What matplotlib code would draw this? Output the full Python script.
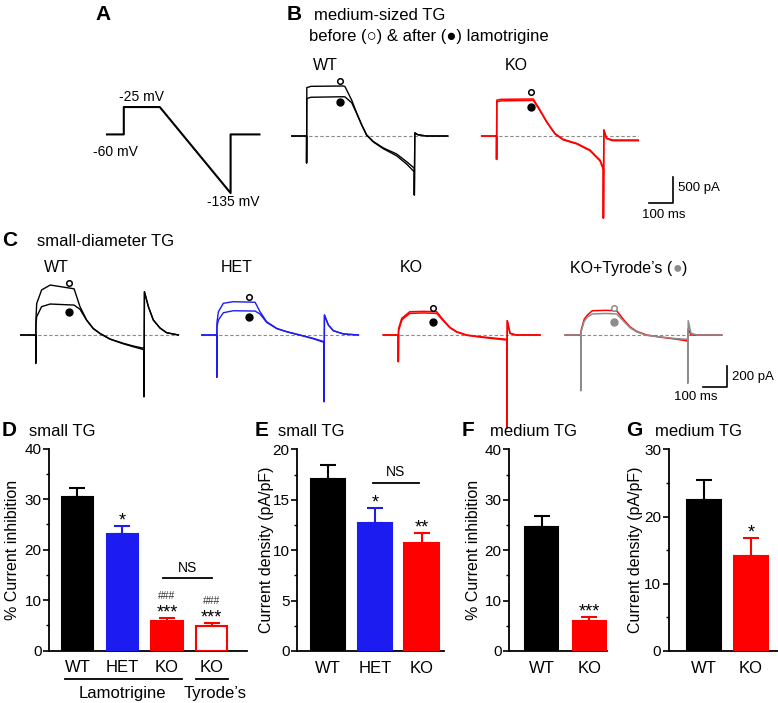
import matplotlib
matplotlib.use("Agg")
import matplotlib.pyplot as plt
from matplotlib.ticker import MultipleLocator, AutoMinorLocator

plt.rcParams['font.family'] = ['Liberation Sans', 'DejaVu Sans']

W, H = 778, 703
BLACK, BLUE, RED, GRAY = 'black', '#1c1cf0', '#ff0000', '#8c8c8c'

# A: voltage protocol (ms, mV)
A_T = [0, 70, 70, 220, 515, 515, 635]
A_V = [-60, -60, -25, -25, -135, -60, -60]

# B: medium-sized TG, before / after lamotrigine (ms, pA)
B_WT_T = [0, 62, 62, 63, 80, 215, 222, 250, 271, 292, 312, 340, 382, 437, 479, 511, 511, 513, 525, 560, 650]
B_WT_PRE = [0, 0, -520, 930, 955, 962, 950, 690, 440, 215, 25, -105, -230, -345, -495, -620, -1135, 60, 25, 0, 0]
B_WT_POST = [0, 0, -520, 720, 745, 755, 752, 640, 430, 205, 15, -115, -245, -380, -540, -690, -1135, 60, 25, 0, 0]
B_KO_T = [0, 62, 62, 63, 80, 215, 243, 271, 305, 340, 396, 451, 493, 507, 507, 509, 520, 545, 652]
B_KO_PRE = [0, 0, -450, 690, 705, 712, 500, 275, 51, -64, -141, -269, -462, -622, -1580, 115, -40, -77, -77]
B_KO_POST = [0, 0, -450, 660, 675, 685, 485, 265, 40, -75, -152, -282, -480, -645, -1580, 115, -50, -90, -90]
B_WT_MARK = (201, 1063, 660)   # time, open circle, filled circle
B_KO_MARK = (204, 846, 552)
B_SCALE = (100, 500)

# C: small-diameter TG (ms, pA)
C_WT_T = [0, 61, 61, 62, 65, 85, 120, 217, 241, 268, 295, 322, 363, 417, 458, 501, 501, 503, 519, 539, 566, 593, 641]
C_WT_PRE = [0, 0, -270, 150, 300, 429, 476, 440, 270, 143, 63, 16, -38, -79, -105, -127, -588, 412, 270, 143, 67, 22, 0]
C_WT_POST = [0, 0, -270, 100, 175, 270, 295, 285, 245, 140, 60, 14, -40, -84, -112, -140, -588, 412, 270, 143, 67, 22, 0]
C_HET_T = [0, 61, 61, 62, 68, 88, 128, 217, 237, 264, 305, 346, 400, 454, 497, 497, 499, 515, 535, 576, 637]
C_HET_PRE = [0, 0, -403, 120, 222, 302, 317, 312, 222, 127, 63, 32, 0, -32, -63, -635, 190, 95, 41, 10, 0]
C_HET_POST = [0, 0, -403, 80, 143, 212, 231, 228, 200, 120, 60, 30, -2, -36, -70, -635, 190, 95, 41, 10, 0]
C_KO_T = [0, 61, 61, 62, 75, 88, 108, 163, 217, 244, 271, 298, 339, 393, 461, 502, 502, 504, 515, 540, 637]
C_KO_PRE = [0, 0, -254, 60, 159, 184, 222, 225, 222, 143, 73, 32, 0, -16, -32, -41, -889, 136, 16, 0, 0]
C_KO_POST = [0, 0, -254, 40, 140, 170, 206, 210, 206, 135, 68, 28, -3, -20, -38, -48, -889, 136, 16, 0, 0]
C_TY_T = [0, 64, 64, 65, 78, 91, 111, 166, 210, 237, 264, 291, 332, 386, 454, 499, 499, 501, 512, 537, 637]
C_TY_RED = [0, 0, -60, 40, 150, 190, 231, 235, 231, 150, 78, 35, 0, -20, -40, -57, -150, 60, 0, 0, 0]
C_TY_GRAY = [0, 0, -532, 30, 130, 170, 200, 205, 200, 135, 70, 30, -3, -18, -35, -41, -460, 136, 16, 0, 0]
C_WT_MARK = (196, 498, 222)
C_HET_MARK = (193, 365, 169)
C_KO_MARK = (201, 254, 127)
C_TY_MARK = (199, 254, 127)
C_SCALE = (100, 200)

# D-G: bar charts
D_LABELS = ['WT', 'HET', 'KO', 'KO']
D_VALS = [30.5, 23.2, 5.8, 4.8]
D_ERRS = [1.7, 1.5, 0.7, 0.7]
D_STARS = ['', '*', '***', '***']
D_HASH = ['', '', '###', '###']
E_LABELS = ['WT', 'HET', 'KO']
E_VALS = [17.1, 12.7, 10.7]
E_ERRS = [1.3, 1.5, 1.0]
E_STARS = ['', '*', '**']
F_LABELS = ['WT', 'KO']
F_VALS = [24.6, 6.0]
F_ERRS = [2.1, 0.7]
F_STARS = ['', '***']
G_LABELS = ['WT', 'KO']
G_VALS = [22.5, 14.2]
G_ERRS = [2.9, 2.6]
G_STARS = ['', '*']

fig = plt.figure(figsize=(W / 100, H / 100), dpi=100)


def px_axes(left, top, right, bottom):
    return fig.add_axes([left / W, 1 - bottom / H, (right - left) / W, (bottom - top) / H])


def overlay(x0, y0, sx, sy):
    # transparent full-figure axes whose data origin sits at pixel (x0, y0)
    ax = fig.add_axes([0, 0, 1, 1])
    ax.set_xlim(-x0 / sx, (W - x0) / sx)
    ax.set_ylim(-(H - y0) / sy, y0 / sy)
    ax.set_axis_off()
    return ax


def label(x, y, s, **kw):
    kw.setdefault('va', 'center')
    return fig.text(x / W, 1 - y / H, s, **kw)


def draw_trace(ax, t, traces, colors, lw=1.0):
    ax.hlines(0, t[0], t[-1], colors='#8a8a8a', linestyles=(0, (3, 2)), linewidth=0.8, zorder=1)
    for y, c in zip(traces, colors):
        ax.plot(t, y, color=c, lw=lw, zorder=2)


def marks(ax, m, open_col, fill_col):
    t, y_open, y_fill = m
    ax.plot(t, y_open, 'o', mfc='white', mec=open_col, ms=4, mew=1.1, zorder=3)
    ax.plot(t, y_fill, 'o', color=fill_col, ms=5, zorder=3)


def bar_panel(box, xlim, ylim, step, labels, vals, errs, edges, faces, stars, width, ylabel, ylab_x):
    ax = px_axes(*box)
    x = list(range(len(vals)))
    ax.bar(x, vals, width, color=faces, edgecolor=edges, linewidth=1.5, zorder=3)
    for xi, v, e, c, s in zip(x, vals, errs, edges, stars):
        ax.errorbar(xi, v, yerr=[[0], [e]], fmt='none', ecolor=c, elinewidth=1.5,
                    capsize=5.5, capthick=1.5, zorder=2)
        if s:
            ax.annotate(s, (xi, v + e), xytext=(0, 0.5), textcoords='offset points',
                        ha='center', va='baseline', fontsize=13)
    ax.set_xlim(xlim)
    ax.set_ylim(ylim)
    ax.set_xticks(x, labels, fontsize=12)
    ax.yaxis.set_major_locator(MultipleLocator(step))
    ax.yaxis.set_minor_locator(AutoMinorLocator(2))
    ax.tick_params(axis='x', length=0, pad=7)
    ax.tick_params(axis='y', which='major', length=4, width=1.2, labelsize=11, pad=1.5)
    ax.tick_params(axis='y', which='minor', length=2.5, width=1.0)
    for sp in ['top', 'right']:
        ax.spines[sp].set_visible(False)
    for sp in ['left', 'bottom']:
        ax.spines[sp].set_linewidth(1.3)
    ax.set_ylabel(ylabel, fontsize=11.5, va='center')
    ax.yaxis.set_label_coords(ylab_x, 0.5)
    ax.patch.set_visible(False)
    return ax


# ---- A
axA = overlay(107, 87.5, 0.24, 0.782)
axA.plot(A_T, A_V, color=BLACK, lw=1.5)
axA.annotate('-25 mV', (145, -25), xytext=(0, 2.5), textcoords='offset points',
             ha='center', va='bottom', fontsize=10)
axA.annotate('-60 mV', (35, -60), xytext=(0, -13), textcoords='offset points',
             ha='center', va='center', fontsize=10)
axA.annotate('-135 mV', (515, -135), xytext=(1.7, -6.5), textcoords='offset points',
             ha='center', va='center', fontsize=10)

# ---- B
axB1 = overlay(291.7, 136, 0.24, 0.052)
draw_trace(axB1, B_WT_T, [B_WT_PRE, B_WT_POST], [BLACK, BLACK])
marks(axB1, B_WT_MARK, BLACK, BLACK)
axB2 = overlay(481.7, 136, 0.24, 0.052)
draw_trace(axB2, B_KO_T, [B_KO_PRE, B_KO_POST], [RED, RED], lw=1.1)
marks(axB2, B_KO_MARK, BLACK, BLACK)
bx, by = 797, -1283
axB2.plot([bx - B_SCALE[0], bx, bx], [by, by, by + B_SCALE[1]], color=BLACK, lw=1.2)

# ---- C
axC1 = overlay(20.7, 335, 0.246, 0.105)
draw_trace(axC1, C_WT_T, [C_WT_PRE, C_WT_POST], [BLACK, BLACK])
marks(axC1, C_WT_MARK, BLACK, BLACK)
axC2 = overlay(201.7, 335, 0.246, 0.105)
draw_trace(axC2, C_HET_T, [C_HET_PRE, C_HET_POST], [BLUE, BLUE])
marks(axC2, C_HET_MARK, BLACK, BLACK)
axC3 = overlay(383.3, 335, 0.246, 0.105)
draw_trace(axC3, C_KO_T, [C_KO_PRE, C_KO_POST], [RED, RED], lw=1.1)
marks(axC3, C_KO_MARK, BLACK, BLACK)
axC4 = overlay(565, 335, 0.246, 0.105)
draw_trace(axC4, C_TY_T, [C_TY_RED, C_TY_GRAY], [RED, GRAY], lw=1.1)
marks(axC4, C_TY_MARK, GRAY, GRAY)
cx, cy = 660, -492
axC4.plot([cx - C_SCALE[0], cx, cx], [cy, cy, cy + C_SCALE[1]], color=BLACK, lw=1.2)

# ---- D
axD = bar_panel((49.3, 448.7, 246.7, 650.7), (-0.63, 3.785), (0, 40), 10, D_LABELS, D_VALS, D_ERRS,
                [BLACK, BLUE, RED, RED], [BLACK, BLUE, RED, 'white'], D_STARS, 0.70,
                '% Current inhibition', -0.184)
for xi, (v, e, h) in enumerate(zip(D_VALS, D_ERRS, D_HASH)):
    if h:
        axD.annotate(h, (xi, v + e), xytext=(0, 13.3), textcoords='offset points',
                     ha='center', va='baseline', fontsize=7.5, color='#333333')
axD.plot([1.91, 3.01], [14.4, 14.4], color=BLACK, lw=1.3)
axD.annotate('NS', (2.46, 14.4), xytext=(0, 2.5), textcoords='offset points',
             ha='center', va='bottom', fontsize=10)
tr = axD.get_xaxis_transform()
axD.plot([-0.28, 2.34], [-0.14, -0.14], transform=tr, clip_on=False, color=BLACK, lw=1.3)
axD.plot([2.65, 3.37], [-0.14, -0.14], transform=tr, clip_on=False, color=BLACK, lw=1.3)
axD.text(1.0, -0.21, 'Lamotrigine', transform=tr, ha='center', va='center', fontsize=12)
axD.text(3.08, -0.21, 'Tyrode’s', transform=tr, ha='center', va='center', fontsize=12)

# ---- E
axE = bar_panel((297.3, 449.3, 444, 651), (-0.655, 2.476), (0, 20), 5, E_LABELS, E_VALS, E_ERRS,
                [BLACK, BLUE, RED], [BLACK, BLUE, RED], E_STARS, 0.74,
                'Current density (pA/pF)', -0.213)
axE.plot([0.96, 1.94], [16.7, 16.7], color=BLACK, lw=1.3)
axE.annotate('NS', (1.45, 16.7), xytext=(0, 2.5), textcoords='offset points',
             ha='center', va='bottom', fontsize=10)

# ---- F, G
bar_panel((509.3, 449.3, 607.3, 651), (-0.68, 1.38), (0, 40), 10, F_LABELS, F_VALS, F_ERRS,
          [BLACK, RED], [BLACK, RED], F_STARS, 0.70, '% Current inhibition', -0.37)
bar_panel((669, 449.3, 778, 651), (-0.74, 1.58), (0, 30), 10, G_LABELS, G_VALS, G_ERRS,
          [BLACK, RED], [BLACK, RED], G_STARS, 0.73, 'Current density (pA/pF)', -0.305)

# ---- text
bold = dict(fontsize=15, fontweight='bold', ha='center')
label(103.5, 14.5, 'A', **bold)
label(294, 14, 'B', **bold)
label(314, 15.7, 'medium-sized TG', fontsize=12)
label(309, 36, 'before (○) & after (●) lamotrigine', fontsize=12)
label(325, 65, 'WT', fontsize=11.5, ha='center')
label(516, 65, 'KO', fontsize=11.5, ha='center')
label(678, 188, '500 pA', fontsize=9.5)
label(664, 215, '100 ms', fontsize=9.5, ha='center')

label(10, 240.5, 'C', **bold)
label(36.7, 241, 'small-diameter TG', fontsize=12)
label(56.7, 268, 'WT', fontsize=11.5, ha='center')
label(236.7, 268, 'HET', fontsize=11.5, ha='center')
label(411.7, 268, 'KO', fontsize=11.5, ha='center')
t1 = label(570, 268, 'KO+Tyrode’s (', fontsize=11.5)
t2 = axC4.annotate('●', xy=(1, 0.5), xycoords=t1, ha='left', va='center', fontsize=11.5, color=GRAY)
axC4.annotate(')', xy=(1, 0.5), xycoords=t2, ha='left', va='center', fontsize=11.5)
label(731.7, 377.3, '200 pA', fontsize=9.5)
label(696, 396.7, '100 ms', fontsize=9.5, ha='center')

label(9.5, 430.7, 'D', **bold)
label(29, 431, 'small TG', fontsize=12)
label(262, 430.7, 'E', **bold)
label(278.3, 431, 'small TG', fontsize=12)
label(468, 430.7, 'F', **bold)
label(490, 431, 'medium TG', fontsize=12)
label(634, 430.7, 'G', **bold)
label(655, 431, 'medium TG', fontsize=12)

fig.savefig('out.png', dpi=100)
